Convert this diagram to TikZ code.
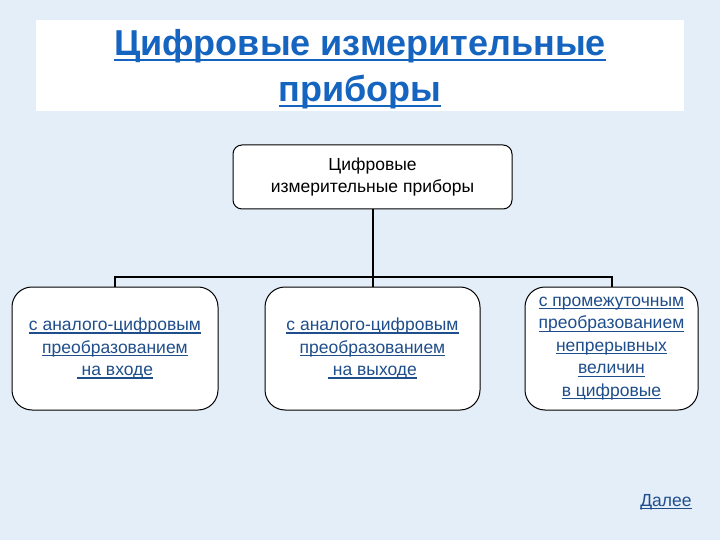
\documentclass[tikz,border=0pt]{standalone}
\usepackage{fontspec}
\setmainfont{Liberation Sans}
\usetikzlibrary{positioning}
\definecolor{bg}{HTML}{E3EEF8}
\definecolor{titleblue}{HTML}{1565C0}
\definecolor{linkblue}{HTML}{1F4E8C}
\newsavebox{\myulbox}
\newcommand{\myul}[1]{\sbox{\myulbox}{#1}\rlap{\rule[-0.17em]{\wd\myulbox}{0.07em}}\usebox{\myulbox}}
\tikzset{
  topbox/.style={draw=black, line width=1pt, fill=white, rounded corners=9pt, align=center, inner sep=0pt, font=\fontsize{17.5}{22}\selectfont},
  subbox/.style={draw=black, line width=1pt, fill=white, rounded corners=20pt, align=center, inner sep=0pt, text=linkblue, font=\fontsize{17.5}{22.5}\selectfont},
  conn/.style={draw=black, line width=2pt},
}
\begin{document}
\begin{tikzpicture}[x=1pt,y=-1pt]
\useasboundingbox (0,0) rectangle (720,540);
\fill[bg] (0,0) rectangle (720,540);
\fill[white] (36,20) rectangle (684,111);
\node[text=titleblue, font=\fontsize{36}{46}\selectfont\bfseries, align=center] (title) at (360,69) {\myul{Цифровые измерительные}\\\myul{приборы}};
\node[topbox, minimum width=279pt, minimum height=64pt] (top) at (372.5,177) {Цифровые\\измерительные приборы};
\node[subbox, minimum width=206pt, minimum height=123pt] (b1) at (115,348.5) {\myul{с аналого-цифровым}\\\myul{преобразованием}\\\myul{ на входе}};
\node[subbox, minimum width=215pt, minimum height=123pt] (b2) at (372.5,348.5) {\myul{с аналого-цифровым}\\\myul{преобразованием}\\\myul{ на выходе}};
\node[subbox, minimum width=173pt, minimum height=123pt] (b3) at (611.5,348.5) {\myul{с промежуточным}\\\myul{преобразованием}\\\myul{непрерывных}\\\myul{величин}\\\myul{в цифровые}};
\coordinate (j) at (372.5,277);
\draw[conn] (top.south) -- (j);
\draw[conn] (b1.north) -- (b1.north |- j) -- (b3.north |- j) -- (b3.north);
\draw[conn] (j) -- (b2.north);
\node[text=linkblue, font=\fontsize{17.5}{20}\selectfont] (next) at (666,502) {\myul{Далее}};
\end{tikzpicture}
\end{document}
